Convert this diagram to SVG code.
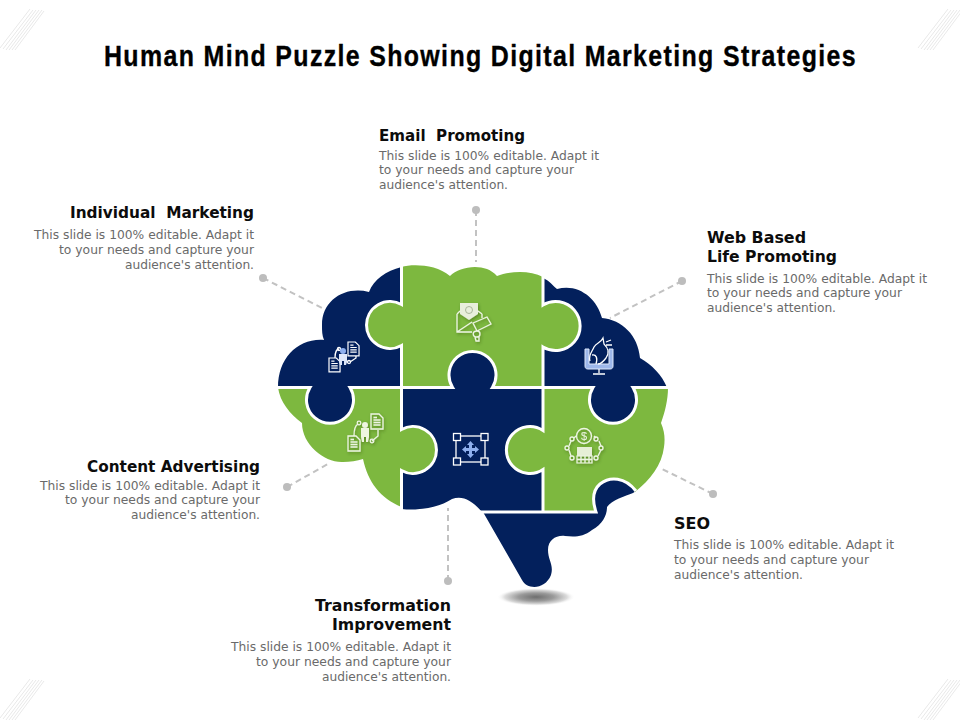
<svg xmlns="http://www.w3.org/2000/svg" width="960" height="720" viewBox="0 0 960 720">
<style>
.title{font:bold 29px "Liberation Sans",Arial,sans-serif;fill:#000;stroke:#000;stroke-width:.35}
.h{font:bold 15px "DejaVu Sans",Verdana,sans-serif;fill:#0c0c0c}
.b{font:12px "DejaVu Sans",Verdana,sans-serif;fill:#6a6a6a}
.e{text-anchor:end}
.navy{fill:#03205c}
.green{fill:#7db83f}
.seam{fill:none;stroke:#fff;stroke-width:3}
.con{stroke:#c2c2c2;stroke-width:2;stroke-dasharray:6 4;fill:none}
.dot{fill:#bdbdbd}
.ic{fill:none;stroke:#fff;stroke-width:1.3}
.icg{fill:none;stroke:#edf5e2;stroke-width:1.3}
.hatch line{stroke:#dedede;stroke-width:.7}
.blue{fill:#8fb0ee}
</style>
<defs>
<radialGradient id="sh"><stop offset="0" stop-color="#6e6e6e"/><stop offset="0.45" stop-color="#9a9a9a"/><stop offset="0.8" stop-color="#dcdcdc"/><stop offset="1" stop-color="#fff" stop-opacity="0"/></radialGradient>
<g id="hatch" class="hatch">
<line x1="0" y1="48" x2="30" y2="9"/><line x1="3" y1="49" x2="33" y2="10"/><line x1="6" y1="50" x2="36" y2="10"/><line x1="9" y1="50" x2="39" y2="10"/><line x1="12" y1="50" x2="42" y2="10"/><line x1="15" y1="50" x2="44" y2="11"/>
</g>
<g id="doc"><path d="M0,0H8L12,4V15H0Z"/><path d="M2.500,6H9.500M2.500,8.500H9.500M2.500,11H9.500M2.500,3.500H6"/></g>
<filter id="ds" x="-30%" y="-30%" width="160%" height="160%"><feDropShadow dx="1" dy="1.500" stdDeviation="1.500" flood-color="#2c4a10" flood-opacity="0.45"/></filter>
</defs>

<use href="#hatch"/><use href="#hatch" x="918"/><use href="#hatch" y="670"/><use href="#hatch" x="918" y="670"/>

<text class="title" transform="translate(104,65.500) scale(.86,1)" textLength="874" lengthAdjust="spacing">Human Mind Puzzle Showing Digital Marketing Strategies</text>

<ellipse cx="536" cy="597" rx="39" ry="9" fill="url(#sh)"/>

<g id="connectors">
<path class="con" d="M476,210V262"/><circle class="dot" cx="476" cy="210" r="4"/>
<path class="con" d="M263,278L322,308"/><circle class="dot" cx="263" cy="278" r="4"/>
<path class="con" d="M682,281L610,318"/><circle class="dot" cx="682" cy="281" r="4"/>
<path class="con" d="M287,487L328,464"/><circle class="dot" cx="287" cy="487" r="4"/>
<path class="con" d="M713,494L662,469"/><circle class="dot" cx="713" cy="494" r="4"/>
<path class="con" d="M448,581V508"/><circle class="dot" cx="448" cy="581" r="4"/>
</g>

<g id="node-individual">
<path class="navy" d="M401.500,267C386,271 374,279 369,292C345,286 322,300 322,325C322,331 322,335 324,340C298,338 278,358 278,387.500H310A23.500,23.500 0 1 0 350,387.500H401.500V345.500A23.500,23.500 0 1 1 401.500,304.500Z"/>
<g class="ic" transform="translate(348,342) scale(.92)"><use href="#doc"/></g>
<g class="ic" transform="translate(329,358) scale(.92)"><use href="#doc"/></g>
<path class="ic" d="M335,358C335,352 337,349 339,349M356,356V358L350,362"/>
<circle class="ic" cx="339" cy="349" r="1.500"/><circle class="ic" cx="349" cy="362" r="1.500"/>
<circle cx="343" cy="351" r="3" class="blue"/><path d="M339,354H347V362L346,365H344V361H342V365H340L339,362Z" fill="#dfe8fa"/>
<text class="h e" x="254" y="217.500" textLength="184" lengthAdjust="spacingAndGlyphs" xml:space="preserve">Individual  Marketing</text>
<text class="b e" x="254" y="239" textLength="220" lengthAdjust="spacingAndGlyphs">This slide is 100% editable. Adapt it</text>
<text class="b e" x="254" y="254" textLength="195" lengthAdjust="spacingAndGlyphs">to your needs and capture your</text>
<text class="b e" x="254" y="269" textLength="129" lengthAdjust="spacingAndGlyphs">audience's attention.</text>
</g>

<g id="node-content">
<path class="green" d="M278,387.500C280,402 290,414 302,423C302,445 325,463 343,462C350,462 357,461 363,459C368,482 380,498 401.500,507V470.500A23.500,23.500 0 1 0 401.500,429.500V387.500H350A23.500,23.500 0 1 1 310,387.500Z"/>
<g filter="url(#ds)">
<g class="icg" transform="translate(371,414)"><use href="#doc"/></g>
<g class="icg" transform="translate(348,436)"><use href="#doc"/></g>
<path class="icg" d="M354,436C354,429 356,425 358,424M378,430V436L372,441"/>
<circle class="icg" cx="359" cy="423" r="1.800"/><circle class="icg" cx="372" cy="441" r="1.800"/>
<circle cx="365" cy="425" r="3" fill="#eef5df"/><path d="M361,428H369V437L368,442H366V437H364V442H362L361,437Z" fill="#eef5df"/>
</g>
<text class="h e" x="260" y="471.500" textLength="173" lengthAdjust="spacingAndGlyphs">Content Advertising</text>
<text class="b e" x="260" y="489.500" textLength="220" lengthAdjust="spacingAndGlyphs">This slide is 100% editable. Adapt it</text>
<text class="b e" x="260" y="504" textLength="195" lengthAdjust="spacingAndGlyphs">to your needs and capture your</text>
<text class="b e" x="260" y="519" textLength="129" lengthAdjust="spacingAndGlyphs">audience's attention.</text>
</g>

<g id="node-email">
<path class="green" d="M401.500,267C412,264 436,264 450,276C460,266 485,262 497,276C510,271 530,270 543,277V305A24.500,24.500 0 1 1 543,347V387.500H492.400A23.500,23.500 0 1 0 452.600,387.500H401.500V345.500A23.500,23.500 0 1 1 401.500,304.500Z"/>
<g filter="url(#ds)">
<path d="M460,303H478V314L469,320L460,314Z" fill="#e8efdc"/>
<circle cx="469" cy="310" r="3.500" fill="none" stroke="#9aa88a" stroke-width=".8"/>
<path class="icg" d="M457,314V332H472M457,314L460,311M482,314L478,311M457,332L472,322M482,314V318"/>
<path class="icg" d="M473,323L487,317L491,324L477,331ZM477,331C472,331 472,337 477,337C481,337 481,331 477,331M475,337L476,341H479L479,336"/>
</g>
<text class="h" x="379" y="140.500" textLength="146" lengthAdjust="spacingAndGlyphs" xml:space="preserve">Email  Promoting</text>
<text class="b" x="379" y="160" textLength="220" lengthAdjust="spacingAndGlyphs">This slide is 100% editable. Adapt it</text>
<text class="b" x="379" y="174" textLength="195" lengthAdjust="spacingAndGlyphs">to your needs and capture your</text>
<text class="b" x="379" y="189" textLength="129" lengthAdjust="spacingAndGlyphs">audience's attention.</text>
</g>

<g id="node-web">
<path class="navy" d="M543,278C550,281 553,286 557,289C578,283 597,298 602,318C622,320 638,335 640,358C652,365 662,375 667,387.500H633A23.500,23.500 0 1 1 593,387.500H543V347A24.500,24.500 0 1 0 543,305Z"/>
<path d="M585,349H589V364H609V349H613V366C613,368 612,369 610,369H588C586,369 585,368 585,366Z" fill="#9db7ea" stroke="#dfe8fa" stroke-width="1"/>
<path class="ic" d="M599,369V373M593,374H605"/>
<path class="ic" d="M590,361C588,355 592,352 594,347C597,342 600,344 603,338L604,344C608,348 610,352 606,358C603,362 600,364 598,364M592,355C596,354 598,358 596,364M606,342L611,340M606,345L612,345"/>
<text class="h" x="707" y="242.500" textLength="99" lengthAdjust="spacingAndGlyphs">Web Based</text>
<text class="h" x="707" y="262" textLength="130" lengthAdjust="spacingAndGlyphs">Life Promoting</text>
<text class="b" x="707" y="282.500" textLength="220" lengthAdjust="spacingAndGlyphs">This slide is 100% editable. Adapt it</text>
<text class="b" x="707" y="297" textLength="195" lengthAdjust="spacingAndGlyphs">to your needs and capture your</text>
<text class="b" x="707" y="311.500" textLength="129" lengthAdjust="spacingAndGlyphs">audience's attention.</text>
</g>

<g id="node-transformation">
<path class="navy" d="M401.500,387.500H452.600A23.500,23.500 0 1 1 492.400,387.500H543V430.500A23.500,23.500 0 1 0 543,469.500V512H482C472,500 462,495 452,499C440,507 420,511 401.500,509V470.500A23.500,23.500 0 1 0 401.500,429.500Z"/>
<path class="navy" d="M483,512H596C592,500 593,490 600,484C610,476 625,477 636,491L633,493C625,496 612,500 607,507C607,515 603,524 592,530C583,537 575,537 565,536C556,535 548,540 548,550C548,560 554,565 551,575C545,590 527,590 522,580Z"/>
<g class="ic">
<rect x="456" y="436" width="29" height="26"/>
<rect x="453.500" y="433.500" width="7" height="7" fill="#03205c"/><rect x="481" y="433.500" width="7" height="7" fill="#03205c"/>
<rect x="453.500" y="458" width="7" height="7" fill="#03205c"/><rect x="481" y="458" width="7" height="7" fill="#03205c"/>
</g>
<path class="blue" d="M470.500,441L474,445H472V448H475V446L479,449.500L475,453V451H472V454H474L470.500,458L467,454H469V451H466V453L462,449.500L466,446V448H469V445H467Z"/>
<text class="h e" x="451" y="610.500" textLength="136" lengthAdjust="spacingAndGlyphs">Transformation</text>
<text class="h e" x="451" y="630" textLength="119" lengthAdjust="spacingAndGlyphs">Improvement</text>
<text class="b e" x="451" y="651" textLength="220" lengthAdjust="spacingAndGlyphs">This slide is 100% editable. Adapt it</text>
<text class="b e" x="451" y="666" textLength="195" lengthAdjust="spacingAndGlyphs">to your needs and capture your</text>
<text class="b e" x="451" y="681" textLength="129" lengthAdjust="spacingAndGlyphs">audience's attention.</text>
</g>

<g id="node-seo">
<path class="green" d="M543,387.500H593A23.500,23.500 0 1 0 633,387.500H668C668,400 665,412 661,423C665,432 665,440 664,447C662,465 650,480 635,492C625,477 610,476 600,484C593,490 592,500 596,512H543V469.500A23.500,23.500 0 1 1 543,430.500Z"/>
<g filter="url(#ds)">
<circle class="icg" cx="584" cy="436" r="7.500"/>
<text x="584" y="440" text-anchor="middle" font-family="Liberation Sans, sans-serif" font-size="11" fill="#edf5e2">$</text>
<path class="icg" stroke-width=".8" d="M574,438L576,436M594,436L596,438M569,446L571,441M599,441L601,446M569,450L571,456M601,450L598,456"/>
<circle class="icg" cx="572" cy="439" r="2"/><circle class="icg" cx="596" cy="439" r="2"/>
<circle class="icg" cx="567" cy="448" r="2"/><circle class="icg" cx="601" cy="448" r="2"/>
<circle class="icg" cx="572" cy="458" r="2"/><circle class="icg" cx="596" cy="458" r="2"/>
<rect x="577" y="447" width="15" height="9" fill="#e6efd6"/>
<path d="M577,456H592V463H577Z" fill="none" stroke="#edf5e2" stroke-width="1.200"/><path class="icg" d="M581,456V463M585,456V463M589,456V463M577,459.500H592" stroke-width=".8"/>
</g>
<text class="h" x="674" y="528.500" textLength="36" lengthAdjust="spacingAndGlyphs">SEO</text>
<text class="b" x="674" y="549" textLength="220" lengthAdjust="spacingAndGlyphs">This slide is 100% editable. Adapt it</text>
<text class="b" x="674" y="564" textLength="195" lengthAdjust="spacingAndGlyphs">to your needs and capture your</text>
<text class="b" x="674" y="579" textLength="129" lengthAdjust="spacingAndGlyphs">audience's attention.</text>
</g>

<g id="seams">
<path class="seam" d="M401.500,265V304.500A23.500,23.500 0 1 0 401.500,345.500V387.500V429.500A23.500,23.500 0 1 1 401.500,470.500V511"/>
<path class="seam" d="M543,275V305A24.500,24.500 0 1 1 543,347V387.500V430.500A23.500,23.500 0 1 0 543,469.500V512"/>
<path class="seam" d="M276,387.500H310A23.500,23.500 0 1 0 350,387.500H452.600A23.500,23.500 0 1 1 492.400,387.500H593A23.500,23.500 0 1 0 633,387.500H670"/>
<path class="seam" d="M480,512H596C592,500 593,490 600,484C610,476 625,477 636,491"/>
</g>
</svg>
